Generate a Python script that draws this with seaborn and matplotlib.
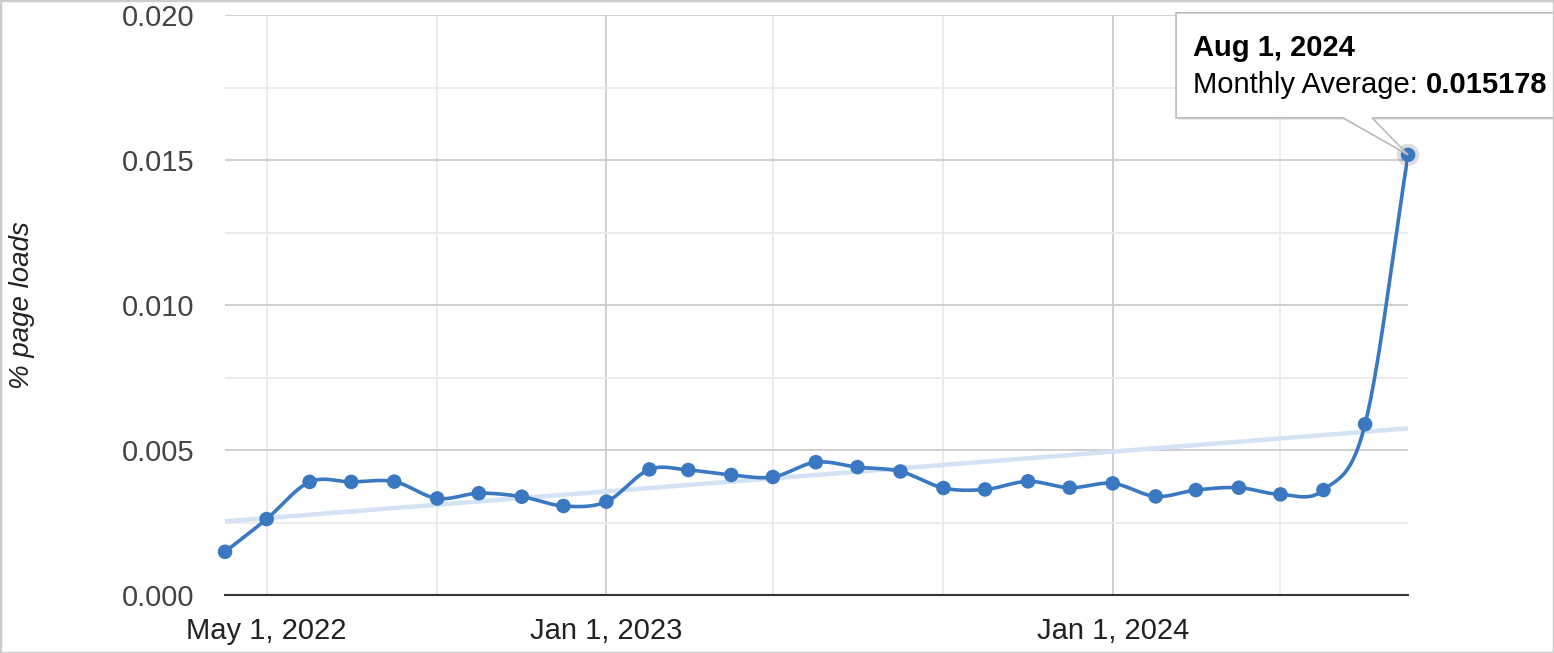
import numpy as np
import pandas as pd
import matplotlib.pyplot as plt
import matplotlib.dates as mdates
from matplotlib.patches import Polygon, Rectangle
import seaborn as sns

# monthly averages, Apr 2022 .. Aug 2024
months = pd.date_range("2022-04-01", "2024-08-01", freq="MS")
monthly_avg = [
    0.00149, 0.00262, 0.00390, 0.00390, 0.00391, 0.00333, 0.00351, 0.00339, 0.00307,
    0.00322, 0.00433, 0.00431, 0.00414, 0.00407, 0.00458, 0.00441, 0.00426, 0.00369,
    0.00364, 0.00392, 0.00370, 0.00385, 0.00340, 0.00362, 0.00370, 0.00347, 0.00362,
    0.00589, 0.015178,
]
grid_dates = ["2022-05-01", "2022-09-01", "2023-01-01", "2023-05-01",
              "2023-09-01", "2024-01-01", "2024-05-01"]
label_dates = ["2022-05-01", "2023-01-01", "2024-01-01"]
y_ticks = [0.000, 0.005, 0.010, 0.015, 0.020]
tooltip_title = "Aug 1, 2024"
tooltip_label = "Monthly Average: "
tooltip_value = "0.015178"

LINE = "#3a78c2"


def smooth(x, y, n=40):
    # cubic hermite with catmull-rom style tangents (like curveType 'function')
    x = np.asarray(x, float)
    y = np.asarray(y, float)
    m = np.zeros_like(y)
    m[1:-1] = (y[2:] - y[:-2]) / (x[2:] - x[:-2])
    m[0] = (y[1] - y[0]) / (x[1] - x[0])
    m[-1] = (y[-1] - y[-2]) / (x[-1] - x[-2])
    xs, ys = [], []
    for i in range(len(x) - 1):
        h = x[i + 1] - x[i]
        t = np.linspace(0, 1, n, endpoint=False)
        h00 = 2 * t**3 - 3 * t**2 + 1
        h10 = t**3 - 2 * t**2 + t
        h01 = -2 * t**3 + 3 * t**2
        h11 = t**3 - t**2
        xs.append(x[i] + t * h)
        ys.append(h00 * y[i] + h10 * h * m[i] + h01 * y[i + 1] + h11 * h * m[i + 1])
    xs.append([x[-1]])
    ys.append([y[-1]])
    return np.concatenate(xs), np.concatenate(ys)


def main():
    sns.set_theme(style="white")
    plt.rcParams["font.family"] = ["Liberation Sans", "DejaVu Sans"]

    xnum = mdates.date2num(months)
    df = pd.DataFrame({"x": xnum, "avg": monthly_avg})
    sx, sy = smooth(df["x"], df["avg"])

    fig = plt.figure(figsize=(15.54, 6.53), dpi=100)
    ax = fig.add_axes([0.1448, 0.0888, 0.7613, 0.8882])

    # trendline (linear fit of the data)
    sns.regplot(data=df, x="x", y="avg", scatter=False, ci=None, ax=ax,
                line_kws=dict(color="#d3e2f4", lw=3.2, zorder=2))
    sns.lineplot(x=sx, y=sy, ax=ax, color=LINE, lw=2.6, zorder=3)
    sns.scatterplot(data=df, x="x", y="avg", ax=ax, color=LINE, s=110,
                    edgecolor="none", zorder=4, clip_on=False)
    # highlighted last point (soft shadow)
    ax.scatter(df["x"].iloc[-1], df["avg"].iloc[-1], s=260, color="#666666",
               alpha=0.22, edgecolor="none", zorder=3.5, clip_on=False)

    ax.set_xlim(xnum[0], xnum[-1])
    ax.set_ylim(0, 0.020)

    # y grid
    ax.set_yticks(y_ticks)
    ax.set_yticklabels([f"{v:.3f}" for v in y_ticks])
    ax.set_yticks([v + 0.0025 for v in y_ticks[:-1]], minor=True)
    ax.yaxis.grid(True, which="major", color="#cccccc", lw=1.3)
    ax.yaxis.grid(True, which="minor", color="#ebebeb", lw=1.3)

    # x grid
    gnum = mdates.date2num(pd.to_datetime(grid_dates))
    ax.set_xticks(gnum)
    labels = []
    for d in pd.to_datetime(grid_dates):
        s = d.strftime("%Y-%m-%d")
        labels.append(f"{d:%b} {d.day}, {d.year}" if s in label_dates else "")
    ax.set_xticklabels(labels)
    ax.xaxis.grid(True, which="major", lw=1.3)
    for d, gl in zip(pd.to_datetime(grid_dates), ax.get_xgridlines()):
        gl.set_color("#cccccc" if d.month == 1 else "#ebebeb")
    ax.set_axisbelow(True)

    for side in ["top", "right", "left"]:
        ax.spines[side].set_visible(False)
    ax.spines["bottom"].set_color("#333333")
    ax.spines["bottom"].set_linewidth(1.5)
    ax.spines["bottom"].set_zorder(5)

    ax.tick_params(axis="y", length=0, labelsize=21, pad=22, labelcolor="#444444")
    ax.tick_params(axis="x", length=0, labelsize=21, pad=16, labelcolor="#222222")
    ax.set_xlabel("")
    ax.set_ylabel("% page loads", fontsize=20, style="italic", color="#222222",
                  labelpad=0)
    ax.yaxis.set_label_coords(-0.1606, 0.5)

    # tooltip callout anchored to the last point
    fig.canvas.draw()
    px, py = ax.transData.transform((xnum[-1], monthly_avg[-1]))
    L, R, T, B = px - 232, px + 150, py + 142, py + 37
    shape = [(L, T), (R, T), (R, B), (px - 36, B), (px, py), (px - 65, B), (L, B)]
    shadow = Polygon([(a + 2, b - 2) for a, b in shape], closed=True, transform=None,
                     facecolor="#000000", alpha=0.10, edgecolor="none", zorder=9)
    box = Polygon(shape, closed=True, transform=None, facecolor="white",
                  edgecolor="#bbbbbb", lw=1.2, zorder=10)
    fig.patches.extend([shadow, box])

    fig.text((px - 215) / fig.bbox.width, (T - 43) / fig.bbox.height,
             tooltip_title, fontsize=21, weight="bold", color="#000000",
             va="baseline", zorder=11)
    t1 = fig.text((px - 215) / fig.bbox.width, (T - 80) / fig.bbox.height,
                  tooltip_label, fontsize=21, color="#000000",
                  va="baseline", zorder=11)
    renderer = fig.canvas.get_renderer()
    ext = t1.get_window_extent(renderer)
    fig.text(ext.x1 / fig.bbox.width, (T - 80) / fig.bbox.height, tooltip_value,
             fontsize=21, weight="bold", color="#000000", va="baseline", zorder=11)

    # outer frame
    fig.patches.append(Rectangle((0, 0), 1, 1, transform=fig.transFigure, fill=False,
                                 edgecolor="#cccccc", lw=2.5, zorder=20))

    fig.savefig("out.png", dpi=100)
    plt.close(fig)


if __name__ == "__main__":
    main()
